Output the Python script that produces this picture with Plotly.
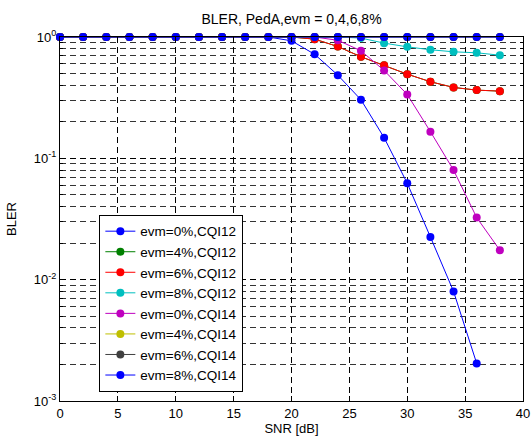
import plotly.graph_objects as go

snr = [0, 2, 4, 6, 8, 10, 12, 14, 16, 18, 20, 22, 24, 26, 28, 30, 32, 34, 36, 38]

ones10 = [1.0] * 10
bler_evm0_cqi12 = ones10 + [0.93, 0.72, 0.485, 0.304, 0.148, 0.0623, 0.0225, 0.0080, 0.00204, None]
bler_evm4_cqi12 = ones10 + [1.0, 0.96, 0.835, 0.687, 0.586, 0.494, 0.428, 0.384, 0.365, 0.358]
bler_evm6_cqi12 = ones10 + [1.0, 0.96, 0.835, 0.687, 0.586, 0.494, 0.428, 0.384, 0.365, 0.358]
bler_evm8_cqi12 = ones10 + [1.0, 1.0, 1.0, 0.98, 0.89, 0.83, 0.785, 0.755, 0.741, 0.708]
bler_evm0_cqi14 = ones10 + [1.0, 1.0, 0.94, 0.77, 0.53, 0.336, 0.166, 0.080, 0.0325, 0.0175]
bler_evm4_cqi14 = [1.0] * 20
bler_evm6_cqi14 = [1.0] * 20
bler_evm8_cqi14 = [1.0] * 20

names = ["evm=0%,CQI12", "evm=4%,CQI12", "evm=6%,CQI12", "evm=8%,CQI12",
         "evm=0%,CQI14", "evm=4%,CQI14", "evm=6%,CQI14", "evm=8%,CQI14"]
series = [bler_evm0_cqi12, bler_evm4_cqi12, bler_evm6_cqi12, bler_evm8_cqi12,
          bler_evm0_cqi14, bler_evm4_cqi14, bler_evm6_cqi14, bler_evm8_cqi14]
colors = ["#0000FF", "#008000", "#FF0000", "#00BFBF",
          "#BF00BF", "#BFBF00", "#404040", "#0000FF"]

y_major = [1, 0.1, 0.01, 0.001]
y_major_text = ["10<sup>0</sup>", "10<sup>-1</sup>", "10<sup>-2</sup>", "10<sup>-3</sup>"]
y_minor = [k * 10.0 ** e for e in (-3, -2, -1) for k in range(2, 10)]
x_ticks = [0, 5, 10, 15, 20, 25, 30, 35, 40]

FONT = "Liberation Sans, Arial, sans-serif"
DASH = "6px,4px"

fig = go.Figure()
for n, s, c in zip(names, series, colors):
    fig.add_trace(go.Scatter(
        x=snr, y=s, name=n, mode="lines+markers",
        line=dict(color=c, width=1),
        marker=dict(color=c, size=8),
        cliponaxis=False,
    ))

fig.update_layout(
    width=532, height=439,
    margin=dict(l=60, r=9, t=37, b=38, autoexpand=False),
    paper_bgcolor="white", plot_bgcolor="white",
    font=dict(family=FONT, size=13, color="black"),
    title=dict(text="BLER, PedA,evm = 0,4,6,8%", x=0.5, xref="paper",
               y=1 - 19 / 439, yref="container", yanchor="middle",
               font=dict(size=14, family=FONT, color="black")),
    showlegend=True,
    legend=dict(x=0.085, y=0.025, xanchor="left", yanchor="bottom",
                bgcolor="white", bordercolor="black", borderwidth=1,
                font=dict(size=13.5, family=FONT, color="black"),
                tracegroupgap=0),
)
fig.update_xaxes(
    range=[0, 40], tickmode="array", tickvals=x_ticks, automargin=False,
    showgrid=True, gridcolor="black", gridwidth=1, griddash=DASH,
    zeroline=False, showline=True, linecolor="black", linewidth=1,
    ticks="inside", ticklen=5, tickcolor="black", mirror="allticks",
    tickfont=dict(size=13),
    title=dict(text="SNR [dB]", standoff=2, font=dict(size=13, family=FONT)),
)
fig.update_yaxes(
    type="log", range=[-3, 0], tickmode="array", tickvals=y_major, ticktext=y_major_text,
    automargin=False,
    showgrid=True, gridcolor="black", gridwidth=1, griddash=DASH,
    zeroline=False, showline=True, linecolor="black", linewidth=1,
    ticks="inside", ticklen=5, tickcolor="black", mirror="allticks",
    tickfont=dict(size=13),
    minor=dict(tickmode="array", tickvals=y_minor, ticks="inside", ticklen=3,
               tickcolor="black", showgrid=True, gridcolor="#333333",
               gridwidth=1, griddash=DASH),
    title=dict(text="BLER", standoff=14, font=dict(size=13, family=FONT)),
)

fig.write_html("out.html",
               config={"displayModeBar": False},
               post_script="document.body.style.margin='0';document.body.style.overflow='hidden';")
